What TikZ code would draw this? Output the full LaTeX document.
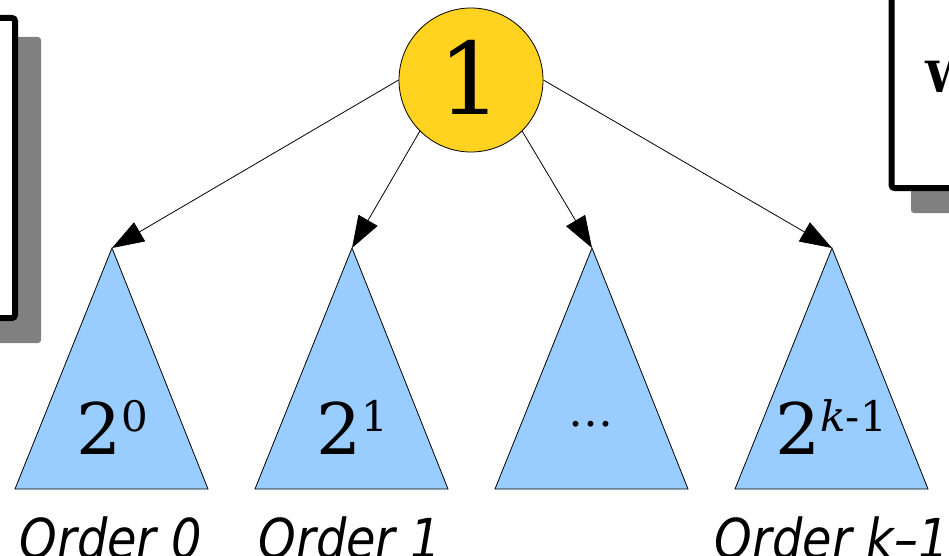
\documentclass[tikz,border=0pt]{standalone}
\usepackage{fontspec}
\setmainfont{DejaVu Serif}
\newfontfamily\ordfont[FakeStretch=0.87]{DejaVu Sans}
\usetikzlibrary{arrows.meta}
\definecolor{sunyellow}{HTML}{FFD320}
\definecolor{skyblue}{HTML}{99CCFF}
\definecolor{shadowgray}{HTML}{808080}
\newcommand\pwr[1]{\fontsize{71}{71}\selectfont 2\raisebox{23pt}{\fontsize{42}{42}\selectfont #1}}
\begin{document}
\begin{tikzpicture}[x=1pt,y=-1pt,
  subtree/.style={draw=black,fill=skyblue,line width=0.8pt,line join=miter},
  link/.style={draw=black,line width=0.8pt,-{Triangle[length=32pt,width=22pt]}},
  ordlabel/.style={anchor=base,inner sep=0pt,font=\ordfont\itshape\fontsize{55}{55}\selectfont},
  powlabel/.style={anchor=base,inner sep=0pt},
  framebox/.style={draw=black,fill=white,line width=6pt,rounded corners=3pt},
  shadowbox/.style={fill=shadowgray,rounded corners=3pt}]
\useasboundingbox (0,0) rectangle (949,556);
\clip (0,0) rectangle (949,556);
% side boxes
\fill[shadowbox] (-20,37) rectangle (41,343);
\draw[framebox] (-30,18) rectangle (15,318);
\fill[shadowbox] (911,-20) rectangle (980,213);
\draw[framebox] (891.5,-30) rectangle (990,188);
\node[anchor=base west,inner sep=0pt,font=\bfseries\fontsize{43}{43}\selectfont] (w) at (925,93) {W};
% root
\node[circle,draw=black,fill=sunyellow,line width=0.8pt,minimum size=144pt,inner sep=0pt] (root) at (471,80) {};
\node[anchor=base,inner sep=0pt,font=\fontsize{100}{100}\selectfont] (one) at (470,115) {1};
% subtrees
\coordinate (a0) at (112,248);
\coordinate (a1) at (352,248);
\coordinate (a2) at (592,248);
\coordinate (a3) at (832,248);
\draw[subtree] (a0) -- (15,489) -- (208,489) -- cycle;
\draw[subtree] (a1) -- (255,489) -- (448,489) -- cycle;
\draw[subtree] (a2) -- (495,489) -- (688,489) -- cycle;
\draw[subtree] (a3) -- (735,489) -- (928,489) -- cycle;
\node[powlabel] (p0) at (112,454) {\pwr{0}};
\node[powlabel] (p1) at (352,454) {\pwr{1}};
\node[powlabel,font=\fontsize{45}{45}\selectfont] (p2) at (591,426) {…};
\node[powlabel] (p3) at (831,454) {\pwr{\textit{k}-1}};
% links
\draw[link] (root.west) -- (a0);
\draw[link] (root.225) -- (a1);
\draw[link] (root.315) -- (a2);
\draw[link] (root.east) -- (a3);
% order labels
\node[ordlabel] (o0) at (111,558) {Order 0};
\node[ordlabel] (o1) at (350,558) {Order 1};
\node[ordlabel] (o3) at (832,558) {Order \textit{k}–1};
\end{tikzpicture}
\end{document}
